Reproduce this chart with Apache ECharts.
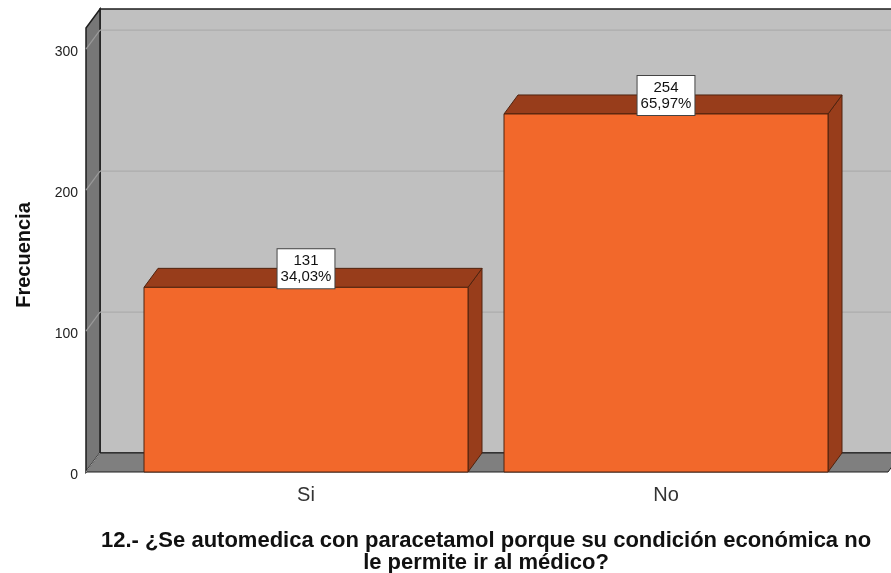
<!DOCTYPE html>
<html>
<head>
<meta charset="utf-8">
<script src="https://cdn.jsdelivr.net/npm/echarts@6/dist/echarts.min.js"></script>
<style>
  html, body { margin: 0; padding: 0; background: #fff; }
  #main { width: 891px; height: 573px; }
</style>
</head>
<body>
<div id="main"></div>
<script>
const categories = ["Si", "No"];
const counts = [131, 254];
const yTicks = [0, 100, 200, 300];
const axisTitle = "Frecuencia";
const chartTitle =
  "12.- ¿Se automedica con paracetamol porque su condición económica no\nle permite ir al médico?";

const total = counts.reduce((a, b) => a + b, 0);
const pctText = (v) => ((v / total) * 100).toFixed(2).replace(".", ",") + "%";

// depth of the fake 3d box
const DX = 14;
const DY = -19;
const FONT = '"Liberation Sans", Arial, sans-serif';

const chart = echarts.init(document.getElementById("main"));

const backdrop = (params, api) => {
  const cs = params.coordSys;
  const x0 = cs.x - 40;
  const x1 = cs.x + cs.width + 42;
  const yTop = cs.y;
  const yBot = cs.y + cs.height;
  const edge = { stroke: "#1e1e1e", lineWidth: 1.5 };
  const children = [
    {
      type: "rect",
      shape: { x: x0 + DX, y: yTop + DY, width: x1 - x0 + 20, height: yBot - yTop },
      style: { fill: "#c0c0c0", ...edge },
    },
    {
      type: "polygon",
      shape: { points: [[x0, yTop], [x0 + DX, yTop + DY], [x0 + DX, yBot + DY], [x0, yBot]] },
      style: { fill: "#777777", ...edge },
    },
    {
      type: "polygon",
      shape: { points: [[x0, yBot], [x0 + DX, yBot + DY], [x1 + DX, yBot + DY], [x1, yBot]] },
      style: { fill: "#7f7f7f", stroke: "#1e1e1e", lineWidth: 1 },
    },
    {
      type: "line",
      shape: { x1: x0, y1: yBot, x2: x0 + DX, y2: yBot + DY },
      style: { stroke: "#9a9a9a", lineWidth: 1 },
    },
  ];
  yTicks.forEach((t) => {
    if (t === 0) return;
    const y = api.coord([0, t])[1];
    children.push({
      type: "line",
      shape: { x1: x0 + DX, y1: y + DY, x2: x1 + DX + 20, y2: y + DY },
      style: { stroke: "#acacac", lineWidth: 1.2 },
    });
    children.push({
      type: "line",
      shape: { x1: x0, y1: y, x2: x0 + DX, y2: y + DY },
      style: { stroke: "#9a9a9a", lineWidth: 1.2 },
    });
  });
  return { type: "group", children };
};

const bar3d = (params, api) => {
  const idx = api.value(0);
  const v = api.value(1);
  const top = api.coord([idx, v]);
  const base = api.coord([idx, 0]);
  const w = api.size([1, 0])[0] * 0.9;
  const xl = top[0] - w / 2;
  const xr = top[0] + w / 2;
  const yt = top[1];
  const yb = base[1];
  const line = { stroke: "#4f230f", lineWidth: 1 };
  return {
    type: "group",
    children: [
      {
        type: "polygon",
        shape: { points: [[xr, yt], [xr + DX, yt + DY], [xr + DX, yb + DY], [xr, yb]] },
        style: { fill: "#983d1b", ...line },
      },
      {
        type: "polygon",
        shape: { points: [[xl, yt], [xl + DX, yt + DY], [xr + DX, yt + DY], [xr, yt]] },
        style: { fill: "#983d1b", ...line },
      },
      {
        type: "rect",
        shape: { x: xl, y: yt, width: w, height: yb - yt },
        style: { fill: "#f2682b", ...line },
      },
      {
        type: "text",
        x: top[0],
        y: yt + 1,
        style: {
          text: counts[idx] + "\n" + pctText(counts[idx]),
          align: "center",
          verticalAlign: "bottom",
          font: "15px " + FONT,
          lineHeight: 16,
          fill: "#111",
          backgroundColor: "#fff",
          borderColor: "#444",
          borderWidth: 1,
          padding: [4, 3, 3, 3],
        },
      },
    ],
  };
};

const option = {
  animation: false,
  grid: { left: 126, right: 45, top: 28, bottom: 101, outerBoundsMode: "none" },
  xAxis: {
    type: "category",
    data: categories,
    axisLine: { show: false },
    axisTick: { show: false },
    axisLabel: { fontSize: 20, color: "#333", margin: 13, fontFamily: FONT },
    name: chartTitle,
    nameLocation: "middle",
    nameGap: 58,
    nameTextStyle: {
      fontSize: 22,
      fontWeight: "bold",
      color: "#111",
      lineHeight: 22,
      fontFamily: FONT,
    },
  },
  yAxis: {
    type: "value",
    min: 0,
    max: 315,
    interval: 100,
    offset: 40,
    splitLine: { show: false },
    axisLine: { show: false },
    axisTick: { show: false },
    axisLabel: {
      fontSize: 14,
      color: "#222",
      margin: 8,
      fontFamily: FONT,
      verticalAlign: "top",
      lineHeight: 6,
      formatter: (v) => (yTicks.includes(v) ? String(v) : ""),
    },
    name: axisTitle,
    nameLocation: "middle",
    nameGap: 52,
    nameTextStyle: {
      fontSize: 20,
      fontWeight: "bold",
      color: "#111",
      fontFamily: FONT,
      padding: [0, 10, 0, 0],
    },
  },
  series: [
    {
      type: "custom",
      silent: true,
      z: 1,
      renderItem: backdrop,
      data: [[0, 0]],
      encode: { x: 0, y: 1 },
    },
    {
      type: "custom",
      z: 2,
      renderItem: bar3d,
      data: categories.map((c, i) => [i, counts[i]]),
      encode: { x: 0, y: 1 },
    },
  ],
};

chart.setOption(option);
</script>
</body>
</html>
